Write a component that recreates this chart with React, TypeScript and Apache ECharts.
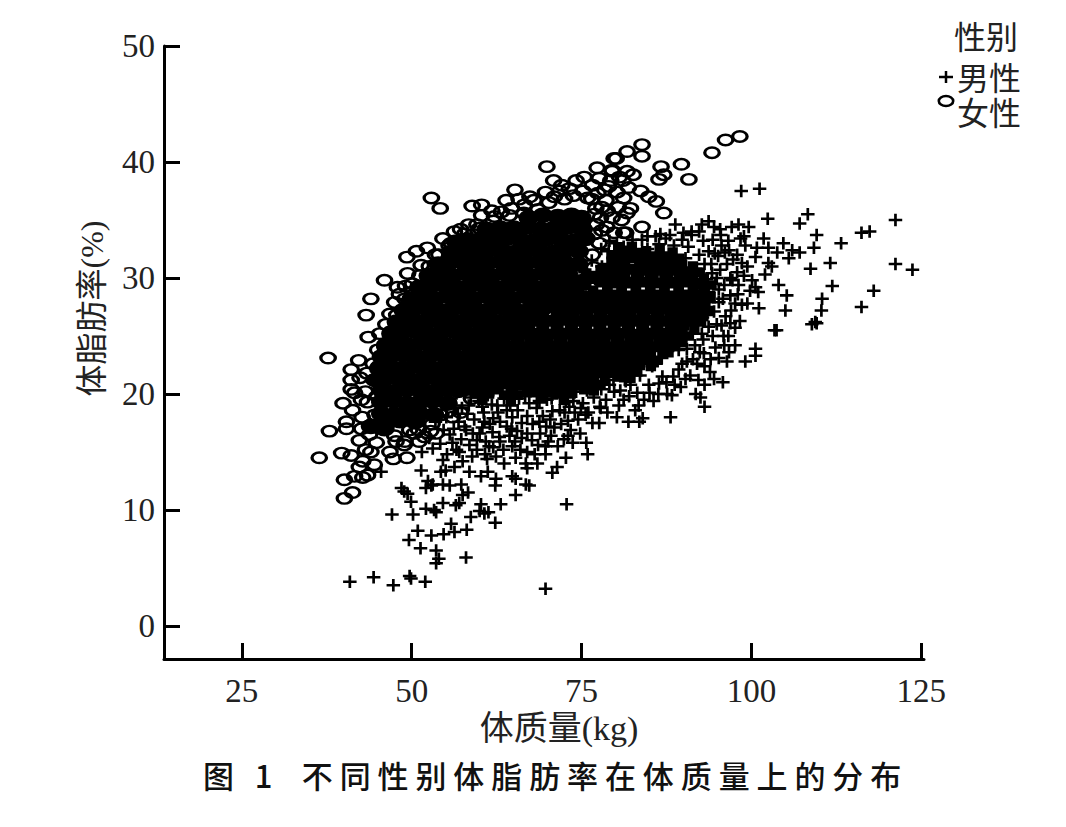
import React, { useEffect, useRef } from "react";
import * as echarts from "echarts";

const xTicks = [25, 50, 75, 100, 125];
const yTicks = [0, 10, 20, 30, 40, 50];
const legendTitle = "性别";
const maleName = "男性";
const femaleName = "女性";
const xName = "体质量(kg)";
const yName = "体脂肪率(%)";
const caption = "图 1\u2002不同性别体脂肪率在体质量上的分布";

const femaleScatter: number[][] = [
[52.9,36.9],[54.2,36],[69.9,39.6],[65.2,37.6],[58.9,36.2],[60.3,36.3],[60.3,35.4],[63.9,36.7],[65.8,36.8],[68,36.7],[62.2,35.3],[57.2,34.2],[58.4,34.6],[60,34.3],[55.5,32.8],[50.7,32.3],[49.3,31.8],[53.5,32],[51.4,31.1],[49.4,30.4],[46,29.8],[50.1,29.5],[49.1,29.3],[44,28.2],[47.5,27.9],[43.3,26.8],[43.6,24.9],[45.3,25.2],[37.7,23.1],[42.2,22.9],[45,23.8],
[70.9,38.4],[72.1,38],[69.7,37.4],[74.2,38.4],[75.4,38.7],[77.3,39.5],[79.8,40.3],[79.5,39.3],[77.6,38.6],[79.3,38.4],[76.6,38],[73.2,37.7],
[83.9,41.5],[83.9,40.5],[81.7,40.9],[80.1,40.3],[89.7,39.8],[86.7,39.6],[87.1,38.9],[86.4,38.5],[90.8,38.5],[94.2,40.8],[96.2,41.9],[98.3,42.2],[81.7,39.2],[81.1,38.4],[79.5,39.2],[83.7,37.5],[84.9,37],[86,36.6],[87.1,35.6],[81.2,36.9],[82.2,36],[81.7,35.6],[83.9,34.4],[81.5,33.9],[81.2,33.9],[78.6,36.7],[79.5,35.2],[78.7,34.4],[78,34.1],[78,36.1],
[41.1,22.1],[41.1,21.2],[41.1,20.4],[39.9,19.2],[40.4,17.6],[40.4,17],[37.9,16.8],[36.4,14.5],[39.7,14.9],[41.1,14.7],[42.3,13.7],[40.1,12.6],[41.6,12.9],[42.8,12.8],[41.3,11.5],[40.1,11],[43.5,13],[42.8,14.2],[44.5,13.9],[47.3,14.4],[49.3,14.5],[42.3,16],[44,15],[47.7,15.9],[48.9,15.6],[51.1,15.9],[51.9,16.3],[49.7,16.9],[54.3,18.2],[42.6,17],[43.5,19.3],[43.2,20.2],[41.6,20.1],[41.3,18.6],[43.8,16.5],[44.8,15.8],[43.2,15.2],[42.7,18],[42.4,21.4],[42.6,19.5],[43.4,21.8],[44.3,22.6],[46.2,26],[46.8,26.9],[48.2,28.6],[47.9,29.2],[52.3,32.6],[54.6,33.4],[56.3,34],[61.8,35.8],[63.2,35.7],[64.7,36],[66.6,36.3],[67.4,37],[71,37],[72.5,36.8],[73.8,37.1],[75.2,37.5],[75.9,36.9],[76.5,36.8],[77.4,37.3],[78.4,37.6],[79,37.9],[80.2,37.4],[77.1,36],[77.8,35.2],[78.8,35.8],[80.4,36.1],[80.9,35],[79.8,33.9],[77.2,34.6],[76.9,35.5],[81.9,37.8],[80.6,38.7],[82.6,38.9],[71.8,37.5],[70.2,36.5],[46.8,15],[50.4,16.6],[53,17.4],[55.4,18.5],[52.8,16.8],
[44.6,18.2],[44.9,19.8],[44.4,21.2],[45.2,22.4],[46.1,24],[47,25.4],[47.8,26.8],[49,28.2],[50.1,28.8],[51.2,30.2],[52.6,31],[54,32],[55.8,33],[57.8,33.8],[59.6,34.6],[62,34.9],[64.4,35.4],[66.5,35.6],[68.6,35.9],[45.8,17],[47.5,16.4],[49,15.9],[51,16.9],[53.6,16.6],[56,18],[57.2,18.4],[58.8,19.6],[59.6,20.8],[76.9,33.8],[77.6,33],[76.6,32],[76.8,30.9],[75.8,30],[74.6,29.4],[73,29],[71.5,28.6],[70.6,27.8],[69,27],[67.5,26.4],
];

const femaleCore: number[][] = [
[71.5,35.3],[73.5,35.4],[75,35.2],[67.2,35.2],[69.3,35.4],
[61,34.2],[63,34.3],[65,34.3],[67.1,34.4],[69,34.2],[71,34.3],[73,34.4],[75.2,34.2],
[56.6,33.1],[58.3,33.3],[60,33.3],[62.1,33.2],[64,33.4],[66,33.3],[68,33.2],[70,33.4],[72,33.3],[74,33.2],[75.6,33.4],
[55.8,32.2],[57.5,32.3],[59.4,32.2],[61.3,32.4],[63.2,32.3],[65.1,32.2],[67,32.4],[68.9,32.3],[70.8,32.2],[72.7,32.4],[74.6,32.3],
[53.9,31.2],[55.5,31.3],[57.4,31.4],[59.3,31.2],[61.2,31.3],[63.1,31.4],[65,31.2],[66.9,31.3],[68.8,31.4],[70.7,31.2],[72.6,31.3],[74.5,31.2],
[52.5,30.2],[54,30.3],[55.9,30.2],[57.8,30.4],[59.7,30.3],[61.6,30.2],[63.5,30.4],[65.4,30.3],[67.3,30.2],[69.2,30.4],[71.1,30.3],[73,30.4],
[51.1,29.2],[52.8,29.3],[54.7,29.4],[56.6,29.2],[58.5,29.3],[60.4,29.4],[62.3,29.2],[64.2,29.3],[66.1,29.4],[68,29.2],[69.9,29.3],[71.6,29.1],
[50,28.2],[51.6,28.3],[53.5,28.2],[55.4,28.4],[57.3,28.3],[59.2,28.2],[61.1,28.4],[63,28.3],[64.9,28.2],[66.8,28.4],[68.7,28.3],[70.4,28.1],
[48.8,27.2],[50.2,27.3],[52.1,27.4],[54,27.2],[55.9,27.3],[57.8,27.4],[59.7,27.2],[61.6,27.3],[63.5,27.4],[65.4,27.2],[67.4,27.3],[69,27.2],
[47.8,26.2],[49.4,26.3],[51.3,26.2],[53.2,26.4],[55.1,26.3],[57,26.2],[58.9,26.4],[60.8,26.3],[62.7,26.2],[64.6,26.4],[66.4,26.2],
[47,25.2],[48.6,25.3],[50.5,25.4],[52.4,25.2],[54.3,25.3],[56.2,25.4],[58.1,25.2],[60,25.3],[61.9,25.4],[63.8,25.2],[65.4,25.3],
[46.2,24.2],[47.6,24.3],[49.5,24.2],[51.4,24.4],[53.3,24.3],[55.2,24.2],[57.1,24.4],[59,24.3],[60.9,24.2],[62.6,24.4],
[45.6,23.2],[47,23.3],[48.9,23.4],[50.8,23.2],[52.7,23.3],[54.6,23.4],[56.5,23.2],[58.4,23.3],[60.2,23.4],
[45.2,22.2],[46.6,22.3],[48.5,22.2],[50.4,22.4],[52.3,22.3],[54.2,22.2],[56.1,22.4],[58.2,22.3],
[44.8,21.2],[46,21.3],[47.9,21.4],[49.8,21.2],[51.7,21.3],[53.6,21.4],[55.5,21.2],[57.4,21.3],
[45.6,20.3],[47.5,20.2],[49.4,20.4],[51.3,20.3],[53.2,20.2],[55.1,20.4],[56.8,20.3],
[45.5,19.3],[47.4,19.4],[49.3,19.2],[51.2,19.3],[53.1,19.4],[55.3,19.2],
[45.5,18.3],[47.4,18.2],[49.3,18.4],[51.2,18.3],[53.3,18.2],
[44,17.2],[46,17],[46.5,17.6],[48.3,17.7],[50.5,17.6],
];

const maleScatter: number[][] = [
[40.9,3.8],[44.4,4.2],[47.3,3.5],[49.7,4.3],[49.9,4.1],[52,3.8],[69.7,3.2],[53.6,5.4],[54,5.8],[53.6,6.5],[51.3,6.7],[49.6,7.4],[58,5.9],[50.9,8.2],[52.9,7.8],[54.7,7.9],[56.3,8.1],[58.1,8.3],[55.8,8.8],[47.1,9.6],[50.2,9.6],[58.7,9.4],[62.3,8.9],[52.1,10.1],[53.3,10],[53.6,9.8],[56.5,10.4],[57,10.6],[60.2,10.5],[60,9.9],[60.7,9.7],[61.3,9.8],[63.1,10.5],[72.8,10.5],[65.3,11.3],[54.6,10.6],[49.9,10.7],[49.4,11.4],[48.9,11.6],[48.5,11.9],[52.1,11.9],[53.1,12.2],[54.6,12.2],[55.6,12.1],[52.9,12.1],[57.3,12.2],[58.3,11.5],[62.3,12.1],[66.8,12.2],[67.3,12.1],[52.4,12.5],[57.5,11.3],
[45.5,13.3],[51.4,13.4],[54.3,13.3],[55,13.4],[56.3,13.7],[58.5,13.3],[60.2,12.9],[61.2,13.3],[62.4,12.7],[64.8,12.9],[65.3,12.7],[66.8,14],[65.3,14.5],[68.5,14],[70.7,13.2],[71.4,13.7],[69.7,14.8],[72.7,14.5],[75.9,14.8],[73.7,15.8],[75.7,15.8],[76.6,17.5],[73.4,16.9],[77.8,18.8],[79.8,20.2],[53.1,15.3],[54.6,14.3],[56,15.8],[58.9,14.6],[62.4,14.6],[58.5,15.6],[61.4,15.5],[64.8,15.5],[67.7,16],[69.7,15.5],[55.6,16.5],[58,16.9],[62.9,16.3],[57.5,14.2],[60.8,14.8],[63.6,14],[66,15.2],[68.1,14.8],[67,13.6],[71.5,15.5],[70.5,16.4],[72.4,16.1],[74.5,17.8],[72,17.4],[69.8,17.2],[67.8,17.4],[65.5,16.8],[64,17.2],[61.5,17.4],[60,16.6],[59.2,17.8],[56.9,17.6],[55.1,18],[57.4,18.8],[60.4,18.9],[62.7,18.4],[65.6,18.6],[68.4,18.8],[70.7,18.5],[73.2,18.9],[75.2,19.2],[76.8,19.7],[63.6,19.6],[61.2,19.9],[58.7,19.7],[66.7,19.8],[71.9,19.8],[74.2,20.2],[77.1,20.9],[78.3,21.8],[76.2,21.7],
[98.5,37.5],[101.2,37.7],[102.4,35.1],[108.3,35.5],[107.1,34.7],[109.6,33.7],[113.2,33],[116.2,33.9],[117.4,34],[121.2,35],[109.2,32.6],[111.6,31.3],[108.7,30.8],[121.2,31.2],[123.7,30.7],[111.9,29.3],[118,28.9],[116.2,27.5],[110.4,28.2],[110.3,27.2],[109.4,26.2],[108.9,26],[109.6,26.1],[104,29.4],[105.2,28.5],[105,27.2],[101.1,27.4],[103.4,25.5],[103.7,25.5],[100.6,23.9],[100.6,23.3],[99.1,22.8],[96.4,22.8],[96.7,23.6],[97.6,24.2],[95.9,25],[94.7,24],[97.6,25.7],[95.8,21],[93.9,21.9],[94.5,21.3],[93.1,20.8],[92,22.6],[89.8,22.6],[89.3,22.1],[90.5,23.9],[89.6,20.6],[88.3,19.9],[91.8,20],[92.5,19.7],[93.1,18.9],[88.1,18],[84,17.9],[83.5,17.6],[81.9,17.6],[83.4,19],[82.2,20.8],[83.2,20.1],[82,19.8],[84.9,20.8],[86.4,20.9],[86.9,21.5],[78.6,19.5],[77.7,18.9],[77.6,17.5],
[88.8,34.6],[92.3,34],[92.7,34.6],[93.7,34.9],[94.5,34.4],[95.4,34.2],[97.1,34.4],[98.1,34.6],[99.6,34.4],[98.9,33.6],[101.8,33.4],[104.7,33],[99.1,32.8],[102.5,32.6],[106,32.4],[107.1,32.2],[103.8,32.2],[105.5,31.7],[97.3,31.6],[100.6,31.8],[102.5,31.3],[103,31],[98.6,31.3],[97.9,30.5],[102,30.3],[100.1,29.8],[101,28.8],[100.6,29.2],[98.1,29.4],[97.6,27.8],[98.6,27.7],[96.9,28.5],[94.7,29.5],[93.7,28.8],[95.4,30.7],[94.5,27.1],[96.2,26.7],[96.9,26.1],[93.7,25.8],[92.7,25.2],[91.3,25.2],[89.3,23.8],
[87.4,33.4],[89.8,33.3],[85.9,33.6],[83.9,33.3],[81.2,32.7],[79,32.3],[90.7,32.7],[92.3,32],[93.7,32.3],[95.6,32.8],[91.8,30.8],[96.6,33.2],[94.3,33.3],[91.2,33.7],[88.6,32.8],[86.4,32.9],[93.1,31.2],[95.1,31.9],[96.9,30],[94.2,30.4],[92.5,29.2],[95.8,28.2],[91.6,27.6],[92.8,26.6],[94.9,26],[90.6,26.2],[89.2,25],[87.9,24],[86.8,23.1],[85.4,22.4],[83.6,21.6],[81.4,21.2],[88.5,21.5],[91,21.6],[87.6,20],[85.6,19.4],[80.5,19],[90.4,25],[91.7,24.2],[93,23.5],[95.2,23.1],[92.9,24.7],[78,31],[80.2,30.4],[79.1,33.2],[77,29.9],[74.8,29],[73.2,28.6],[82.6,31.9],[84.7,32.5],
[51.5,15],[52.6,16.2],[54.2,15.7],[55.2,14.8],[56.6,15.2],[57.3,16.1],[59.6,16],[60.9,15.9],[62,15.4],[63.5,15.2],[64.4,16.4],[66.2,16.2],[68.6,15.6],[70.1,15.9],[71,17.1],[73,17.7],[74,18.4],[75.6,18.2],[72.5,18.4],[69.3,18.1],[67,18.1],[64.8,18],[62,17.9],[60.7,17.6],[58.2,18.3],[56.3,19],[54.5,19.4],[57.8,20.3],[59.9,19.4],[61.8,19.1],[64.5,19],[67.3,19.2],[69.9,19.5],[72.7,19.3],[75.8,20.3],[77.9,20.4],[79.1,20.8],[80.7,20.3],[81.5,21.1],[84.2,19.5],[85,20.1],[86.3,20],[87.5,21],[88.7,20.8],[90.3,21.3],[92.2,21.2],[93.1,22.4],[91.4,23],[90.5,22.8],[92.4,23.6],[94,23],[96,24.2],[94.3,25],[95.6,25.9],[93.5,26.8],[95.2,27.9],[97,27.2],[93.8,27.9],[96,29.4],[95.2,29],[97.2,29.8],[98.9,30.2],[96.4,31.2],[97.9,32],[94.6,32.1],[96.7,32.4],[99.4,31],[100.8,32.6],[91.2,34],[90,33.9],[88,33.7],[86.6,33.8],[84.7,33.6],[82.5,33.3],[80.2,33],
[77.9,32.5],[76.5,31.5],[75.5,30.5],[72.2,28.2],[70,27.2],[68,26.5],
[56.2,17],[57.8,17.2],[59,16.6],[60.4,17.1],[61.9,16.7],[63,17.6],[64.7,17],[66.2,17.5],[67,16.6],[68.9,16.6],[70.4,17.8],[71.8,18.6],[73.8,19.4],[74.9,18.8],[72.6,20],[70.6,19.6],[68.8,19.4],[65.8,19.6],[64,18.6],[62.6,19],[60.6,18.4],[58.4,19],[56.8,18.3],[55.8,19.6],[54.7,16.9],[53.5,17.6],[57,15],[59.6,15.2],[61.1,14.4],[63,15.9],[65.2,15.9],[67,15],[68.8,17.6],[73,16.4],[74.8,16.6],[76,18.4],[78.8,18.4],[80.2,18],[81.2,19.5],[82.9,18.6],[79.7,21.2],
[96.6,25],[98.3,26.3],[99.4,27.8],[98,28.6],[99.8,28.9],[94.9,30],[96.1,32.2],[94.1,31.2],[98.4,33.4],[95.5,33.7],[92.9,33.2],[90.3,31.7],[92.3,28],[93.4,29.9],
];

const maleCore: number[][] = [
[84.5,31.8],[86.5,31.9],[88.4,31.7],[80.4,32],[82.4,32.2],
[79.4,30.9],[81.4,30.7],[83.5,30.8],[85.6,30.6],[87.7,30.7],[89.8,30.6],[91.4,30.5],
[73.5,29.8],[75.7,29.9],[77.8,30.2],[78.8,29.6],[80.9,29.5],[83,29.7],[85.1,29.6],[87.2,29.5],[89.3,29.7],[91.4,29.6],[93,29.4],
[72.5,28.6],[74.6,28.5],[76.7,28.4],[78.8,28.6],[80.9,28.5],[83,28.4],[85.1,28.6],[87.2,28.5],[89.3,28.4],[91.4,28.6],[93,28.4],
[71.8,27.4],[73.9,27.3],[76,27.5],[78.1,27.4],[80.2,27.3],[82.3,27.5],[84.4,27.4],[86.5,27.3],[88.6,27.5],[90.7,27.4],[92.6,27.2],
[67,26.3],[69.1,26.2],[71.2,26.4],[73.3,26.3],[75.4,26.2],[77.5,26.4],[79.6,26.3],[81.7,26.2],[83.8,26.4],[85.9,26.3],[88,26.2],[90.1,26.4],[91.6,26.2],
[63.2,25.2],[65.3,25.1],[67.4,25.3],[69.5,25.2],[71.6,25.1],[73.7,25.3],[75.8,25.2],[77.9,25.1],[80,25.3],[82.1,25.2],[84.2,25.1],[86.3,25.3],[88.4,25.2],[89.8,25],
[59.6,24.1],[61.7,24],[63.8,24.2],[65.9,24.1],[68,24],[70.1,24.2],[72.2,24.1],[74.3,24],[76.4,24.2],[78.5,24.1],[80.6,24],[82.7,24.2],[84.8,24.1],[86.9,24],[87.8,24.1],
[58.4,23],[60.5,22.9],[62.6,23.1],[64.7,23],[66.8,22.9],[68.9,23.1],[71,23],[73.1,22.9],[75.2,23.1],[77.3,23],[79.4,22.9],[81.5,23.1],[83.6,23],[85.2,22.9],
[57.4,21.9],[59.5,21.8],[61.6,22],[63.7,21.9],[65.8,21.8],[67.9,22],[70,21.9],[72.1,21.8],[74.2,22],[76.3,21.9],[78.4,21.8],[80.5,22],[82.2,21.9],
[58.6,20.8],[60.7,20.7],[62.8,20.9],[64.9,20.8],[67,20.7],[69.1,20.9],[71.2,20.8],[73.3,20.7],[75.4,20.9],[76.8,20.8],
[60.4,20],[64.6,19.9],[69,20.1],[72.4,20],
];

export default function App() {
  const ref = useRef<HTMLDivElement>(null);
  useEffect(() => {
    const chart = echarts.init(ref.current!, undefined, { renderer: "svg" });
    const serif = "'Liberation Serif','Noto Sans CJK SC'";
    const ringPath = "path://M-1 0A1 1 0 1 1 1 0A1 1 0 1 1 -1 0Z";
    const plusPath = "path://M-1 0H1M0 -1V1";
    const black = "#000";
    const mk = (name: string, data: number[][], symbol: string, size: number[], lw: number, fill = "transparent") => ({
      type: "scatter",
      name,
      data,
      symbol,
      symbolSize: size,
      clip: false,
      silent: true,
      itemStyle: { color: fill, borderColor: black, borderWidth: lw, opacity: 1 },
      emphasis: { disabled: true },
    });
    const axisBase = {
      axisLine: { show: true, lineStyle: { color: black, width: 3 }, onZero: false },
      splitLine: { show: false },
    };
    chart.setOption({
      animation: false,
      backgroundColor: "#fff",
      textStyle: { fontFamily: serif },
      grid: { left: 164, right: 142, top: 46, bottom: 168, outerBoundsMode: "none" },
      xAxis: {
        ...axisBase,
        type: "value",
        min: 13.55,
        max: 125.4,
        name: xName,
        nameLocation: "middle",
        nameGap: 38,
        nameTextStyle: { fontFamily: serif, fontSize: 34, color: "#222", padding: [0, 0, 0, 30] },
        axisTick: { show: true, inside: true, length: 16, customValues: xTicks, lineStyle: { color: black, width: 3 } },
        axisLabel: { customValues: xTicks, fontFamily: serif, fontSize: 33, color: "#222", margin: 15 },
      },
      yAxis: {
        ...axisBase,
        type: "value",
        min: -2.85,
        max: 50,
        name: yName,
        nameLocation: "middle",
        nameGap: 56,
        nameTextStyle: { fontFamily: serif, fontSize: 32, color: "#222", padding: [0, 0, 0, 88] },
        axisTick: { show: true, inside: true, length: 16, customValues: yTicks, lineStyle: { color: black, width: 3 } },
        axisLabel: { customValues: yTicks, fontFamily: serif, fontSize: 33, color: "#222", margin: 9 },
      },
      series: [
        mk(maleName, maleScatter, plusPath, [13.5, 12.5], 2.6),
        mk(maleName, maleCore, plusPath, [24, 22], 10),
        mk(femaleName, femaleScatter, ringPath, [14.5, 10.5], 2.8),
        mk(femaleName, femaleCore, ringPath, [17, 13], 3, black),
      ],
      graphic: [
        { type: "text", left: 954, top: 22, style: { text: legendTitle, font: `32px ${serif}`, fill: "#222" } },
        { type: "text", left: 957, top: 63, style: { text: maleName, font: `32px ${serif}`, fill: "#222" } },
        { type: "text", left: 957, top: 98, style: { text: femaleName, font: `32px ${serif}`, fill: "#222" } },
        { type: "line", shape: { x1: 939, y1: 77, x2: 953, y2: 77 }, style: { stroke: black, lineWidth: 2.5 } },
        { type: "line", shape: { x1: 946, y1: 71, x2: 946, y2: 83 }, style: { stroke: black, lineWidth: 2.5 } },
        { type: "ellipse", shape: { cx: 946, cy: 101, rx: 7.2, ry: 5 }, style: { fill: "transparent", stroke: black, lineWidth: 2.6 } },
        { type: "text", x: 203, y: 759, style: { text: caption, font: `500 31px 'Noto Sans CJK SC'`, fill: "#111" } },
      ],
    });
    ref.current!.querySelectorAll("text").forEach((t) => {
      if ((t.textContent || "").startsWith("图")) (t as SVGTextElement).style.letterSpacing = "6.9px";
    });
    return () => chart.dispose();
  }, []);
  return <div ref={ref} style={{ position: "absolute", left: 0, top: 0, width: 1066, height: 827 }} />;
}
